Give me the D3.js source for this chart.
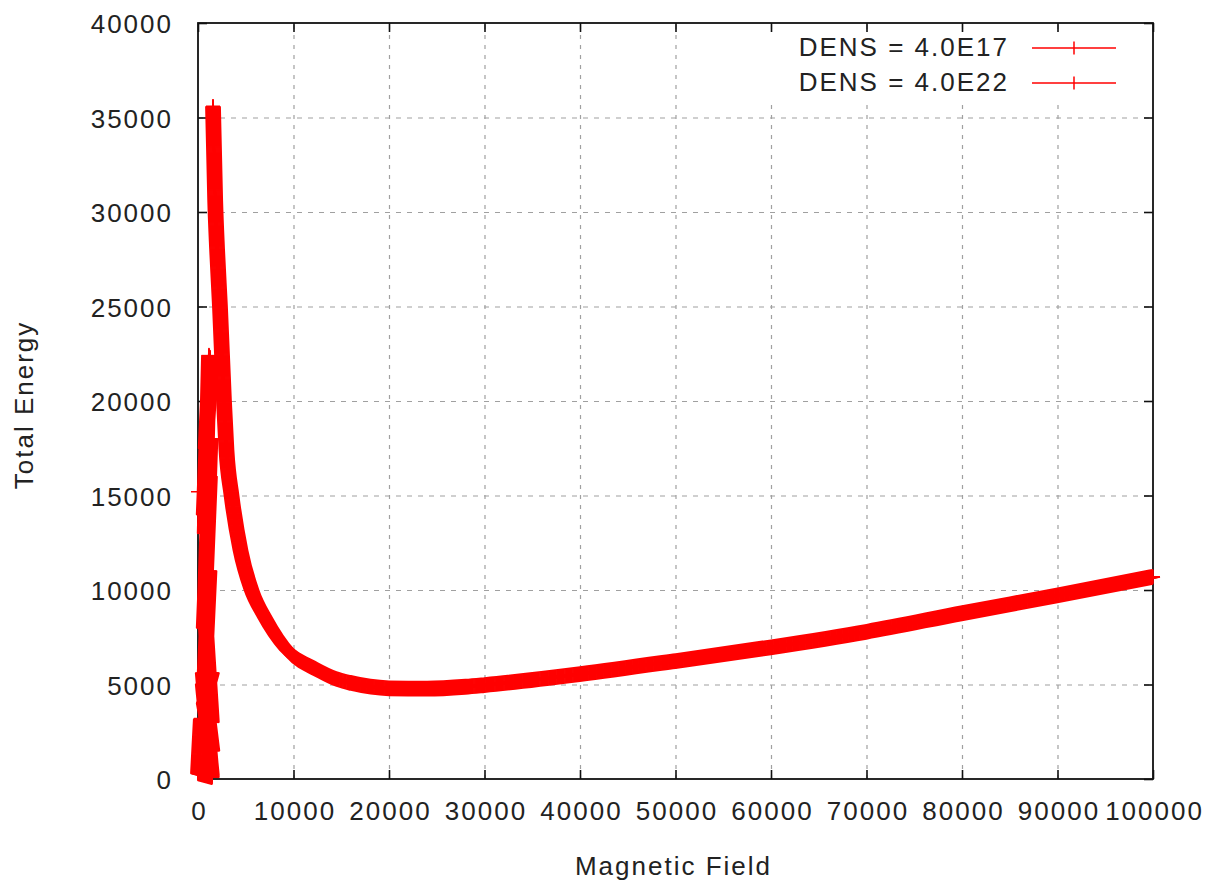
<!DOCTYPE html>
<html lang="en">
<head>
    <meta charset="UTF-8">
    <script src="https://d3js.org/d3.v7.min.js"></script>
    <title>Total Energy vs Magnetic Field</title>
    <style>
        html,
        body {
            margin: 0px;
            padding: 0px;
            background-color: #ffffff;
        }
        svg {
            display: block;
        }
        text {
            font-family: "Liberation Sans", Arial, sans-serif;
        }
    </style>
</head>
<body>
    <div id="chart"></div>

    <script>

        // DENS = 4.0E17 : noisy column close to zero field (null = break in the line)
        let dens17_field  = [300, 0, 1450, 500, 1500, 600, 1450, 700, 1200, 600, 1250, 700, 1150, 1250, 800,
                             1250, 600, 1300, 700, 1450, 500, 1450, null, 0];
        let dens17_energy = [3200, 300, 100, 5600, 1500, 4000, 5600, 5600, 11000, 8000, 16000, 13000, 22400, 21000, 17500,
                             22300, 14000, 18000, 9000, 3000, 5000, 200, null, 15200];

        // DENS = 4.0E22
        let dens22_field  = [1570, 1800, 2000, 2300, 2720, 2980, 3510, 4450, 5600, 7000, 9300, 12500, 14500,
                             16000, 20000, 24000, 28000, 30000, 40000, 50000, 60000, 70000, 80000, 90000, 100000];
        let dens22_energy = [35600, 30600, 28000, 25000, 20000, 17400, 15000, 12100, 10000, 8550, 6830, 5770, 5290,
                             5080, 4800, 4780, 4880, 4970, 5550, 6240, 6970, 7790, 8770, 9720, 10700];

        let x_ticks = [0, 10000, 20000, 30000, 40000, 50000, 60000, 70000, 80000, 90000, 100000];
        let y_ticks = [0, 5000, 10000, 15000, 20000, 25000, 30000, 35000, 40000];

        let series_names = ['DENS = 4.0E17', 'DENS = 4.0E22'];

        let width = 1221;
        let height = 887;

        let margin = {
            top: 23,
            bottom: 108,
            left: 198,
            right: 68
        }

        let plus_half = 7;
        let red = '#ff0000';
        let font_size = 26;

        let svg = d3.select('#chart').append('svg').attr('width', width).attr('height', height);
        svg.append('rect').attr('width', width).attr('height', height).attr('fill', '#fff');

        let x = d3.scaleLinear().domain([x_ticks[0], x_ticks[x_ticks.length - 1]])
            .range([margin.left, width - margin.right]);
        let y = d3.scaleLinear().domain([y_ticks[0], y_ticks[y_ticks.length - 1]])
            .range([height - margin.bottom, margin.top]);

        // grid
        let grid = svg.append('g');
        grid.append('g')
            .attr('transform', `translate(0,${y.range()[0]})`)
            .call(d3.axisBottom(x).tickValues(x_ticks.slice(1, -1)).tickSize(-(y.range()[0] - y.range()[1])).tickFormat(''))
            .call(g => g.select('.domain').remove())
            .call(g => g.selectAll('line').attr('stroke', '#a0a0a0').attr('stroke-width', 1.2).attr('stroke-dasharray', '4,6'));
        grid.append('g')
            .attr('transform', `translate(${x.range()[0]},0)`)
            .call(d3.axisLeft(y).tickValues(y_ticks.slice(1, -1)).tickSize(-(x.range()[1] - x.range()[0])).tickFormat(''))
            .call(g => g.select('.domain').remove())
            .call(g => g.selectAll('line').attr('stroke', '#a0a0a0').attr('stroke-width', 1.2).attr('stroke-dasharray', '5,6'));

        // key background hides the grid under the key
        svg.append('rect')
            .attr('x', 765).attr('y', 33).attr('width', 385).attr('height', 67)
            .attr('fill', '#fff');

        // border and mirrored inward ticks
        let tick_len = 9;
        let axis_style = g => {
            g.select('.domain').remove();
            g.attr('color', '#111').attr('font-family', null).attr('font-size', null);
            g.selectAll('line').attr('stroke-width', 1.6);
            g.selectAll('text').attr('fill', '#222').style('font-size', font_size + 'px').style('letter-spacing', '2px');
        };

        svg.append('g')
            .attr('transform', `translate(0,${y.range()[0]})`)
            .call(d3.axisBottom(x).tickValues(x_ticks).tickSize(-tick_len).tickFormat(d3.format('d')))
            .call(axis_style)
            .call(g => g.selectAll('text').attr('y', 41).attr('dy', null).attr('dx', 1));
        svg.append('g')
            .attr('transform', `translate(0,${y.range()[1]})`)
            .call(d3.axisTop(x).tickValues(x_ticks).tickSize(-tick_len).tickFormat(''))
            .call(axis_style);
        svg.append('g')
            .attr('transform', `translate(${x.range()[0]},0)`)
            .call(d3.axisLeft(y).tickValues(y_ticks).tickSize(-tick_len).tickPadding(25).tickFormat(d3.format('d')))
            .call(axis_style)
            .call(g => g.selectAll('text').attr('dy', null).attr('y', 9.5));
        svg.append('g')
            .attr('transform', `translate(${x.range()[1]},0)`)
            .call(d3.axisRight(y).tickValues(y_ticks).tickSize(-tick_len).tickFormat(''))
            .call(axis_style);

        svg.append('rect')
            .attr('x', x.range()[0]).attr('y', y.range()[1])
            .attr('width', x.range()[1] - x.range()[0]).attr('height', y.range()[0] - y.range()[1])
            .attr('fill', 'none').attr('stroke', '#111').attr('stroke-width', 1.8);

        // linespoints with "+" markers: the dense markers sweep the line into a band
        let offsets = d3.range(-plus_half, plus_half + 0.5, 1);

        let draw_series = function(fields, energies, curve) {
            let pts = fields.map((f, i) => [f, energies[i]]);
            let line = d3.line()
                .defined(d => d[0] != null && d[1] != null)
                .x(d => x(d[0]))
                .y(d => y(d[1]))
                .curve(curve);
            let path_d = line(pts);
            let g = svg.append('g').attr('fill', 'none').attr('stroke', red)
                .attr('stroke-width', 1.8).attr('stroke-linejoin', 'round');
            g.selectAll('path.h')
                .data(offsets)
                .join('path')
                .attr('class', 'h')
                .attr('d', path_d)
                .attr('transform', o => `translate(${o},0)`);
            g.selectAll('path.v')
                .data(offsets)
                .join('path')
                .attr('class', 'v')
                .attr('d', path_d)
                .attr('transform', o => `translate(0,${o})`);
            g.selectAll('path.pt')
                .data(pts.filter(d => d[0] != null && d[1] != null))
                .join('path')
                .attr('class', 'pt')
                .attr('stroke-width', 1.5)
                .attr('d', d => `M${x(d[0]) - plus_half},${y(d[1])}h${2 * plus_half}M${x(d[0])},${y(d[1]) - plus_half}v${2 * plus_half}`);
        }

        draw_series(dens17_field, dens17_energy, d3.curveLinear);
        draw_series(dens22_field, dens22_energy, d3.curveMonotoneX);

        // key
        let key = svg.append('g');
        series_names.forEach((name, i) => {
            let ky = 48 + i * 35;
            key.append('text')
                .attr('x', 1009).attr('y', ky + 8)
                .attr('text-anchor', 'end')
                .attr('fill', '#222')
                .style('font-size', font_size + 'px')
                .style('letter-spacing', '2px')
                .text(name);
            key.append('line')
                .attr('x1', 1032).attr('x2', 1116).attr('y1', ky).attr('y2', ky)
                .attr('stroke', red).attr('stroke-width', 1.5);
            key.append('line')
                .attr('x1', 1074).attr('x2', 1074).attr('y1', ky - 6.5).attr('y2', ky + 6.5)
                .attr('stroke', red).attr('stroke-width', 1.5);
        });

        // axis titles
        svg.append('text')
            .attr('x', (x.range()[0] + x.range()[1]) / 2 - 2).attr('y', 875)
            .attr('text-anchor', 'middle')
            .attr('fill', '#222')
            .style('font-size', font_size + 'px')
            .style('letter-spacing', '2px')
            .text('Magnetic Field');
        svg.append('text')
            .attr('transform', `translate(33,${(y.range()[0] + y.range()[1]) / 2 + 4}) rotate(-90)`)
            .attr('text-anchor', 'middle')
            .attr('fill', '#222')
            .style('font-size', font_size + 'px')
            .style('letter-spacing', '2px')
            .text('Total Energy');

    </script>

</body>
</html>
